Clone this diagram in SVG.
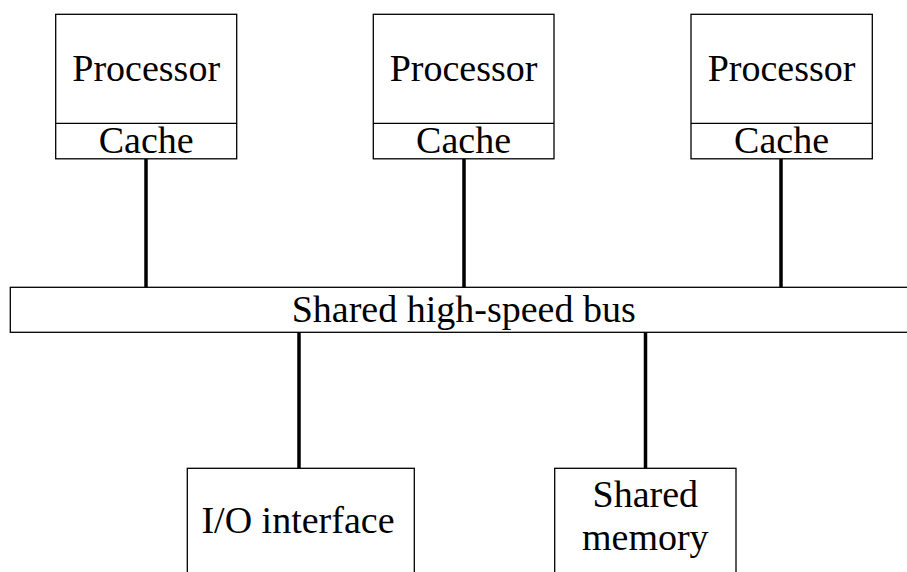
<svg xmlns="http://www.w3.org/2000/svg" width="907" height="572" viewBox="0 0 907 572">
<style>
.box{fill:#fff;stroke:#000;stroke-width:1.3}
.t{font-family:'Liberation Serif',serif;font-size:38px;fill:#000;text-anchor:middle}
.c{stroke:#000;stroke-width:3.5;fill:none}
</style>
<rect width="907" height="572" fill="#fff"/>
<g id="connectors">
<line class="c" x1="146" y1="159" x2="146" y2="288"/>
<line class="c" x1="464" y1="159" x2="464" y2="288"/>
<line class="c" x1="781" y1="159" x2="781" y2="288"/>
<line class="c" x1="299" y1="332" x2="299" y2="468"/>
<line class="c" x1="645.5" y1="332" x2="645.5" y2="468"/>
</g>
<g id="proc1">
<rect class="box" x="55.7" y="14.3" width="181" height="144.5"/>
<line class="box" x1="55.7" y1="123.3" x2="236.7" y2="123.3"/>
<text class="t" x="146.2" y="81" font-family="Liberation Serif, serif">Processor</text>
<text class="t" x="146.2" y="152.5" font-family="Liberation Serif, serif">Cache</text>
</g>
<g id="proc2">
<rect class="box" x="373.3" y="14.3" width="180.7" height="144.5"/>
<line class="box" x1="373.3" y1="123.3" x2="554" y2="123.3"/>
<text class="t" x="463.6" y="81" font-family="Liberation Serif, serif">Processor</text>
<text class="t" x="463.6" y="152.5" font-family="Liberation Serif, serif">Cache</text>
</g>
<g id="proc3">
<rect class="box" x="691" y="14.3" width="181.3" height="144.5"/>
<line class="box" x1="691" y1="123.3" x2="872.3" y2="123.3"/>
<text class="t" x="781.6" y="81" font-family="Liberation Serif, serif">Processor</text>
<text class="t" x="781.6" y="152.5" font-family="Liberation Serif, serif">Cache</text>
</g>
<g id="bus">
<rect class="box" x="10.3" y="287.3" width="910" height="45"/>
<text class="t" x="463.7" y="321.5" font-family="Liberation Serif, serif">Shared high-speed bus</text>
</g>
<g id="io">
<rect class="box" x="187.3" y="468.3" width="227" height="120"/>
<text class="t" x="298" y="533.3" font-family="Liberation Serif, serif">I/O interface</text>
</g>
<g id="mem">
<rect class="box" x="554.7" y="468.3" width="181.3" height="120"/>
<text class="t" x="645.3" y="506.7" font-family="Liberation Serif, serif">Shared</text>
<text class="t" x="645.3" y="550" font-family="Liberation Serif, serif">memory</text>
</g>
</svg>
